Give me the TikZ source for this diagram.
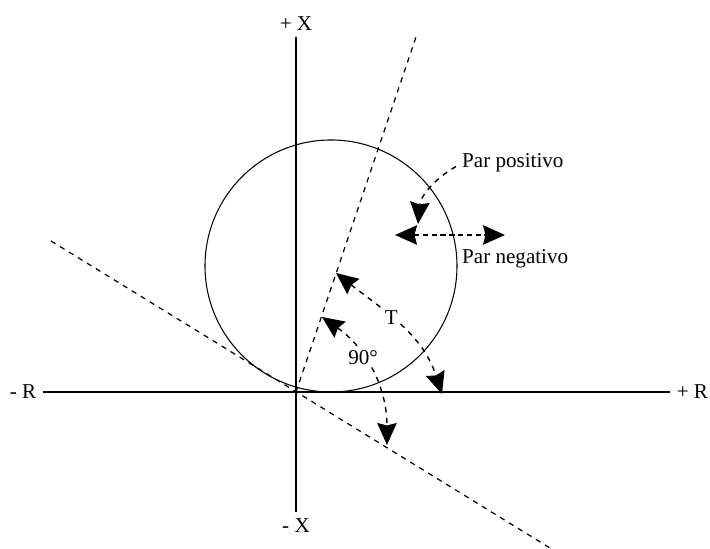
\documentclass[tikz,border=0pt]{standalone}
\usepackage{fontspec}
\setmainfont{Liberation Serif}
\usetikzlibrary{arrows.meta}

\begin{document}
\begin{tikzpicture}[>={Stealth[length=4.4mm,width=3.9mm,inset=0.5mm]},
    eje/.style={line width=1.1pt},
    recta/.style={dashed, line width=0.7pt},
    flecha/.style={dashed, line width=0.8pt},
    every node/.style={font=\fontsize{12}{14}\selectfont}]
    \useasboundingbox (-5.92,-3.14) rectangle (8.28,7.84);

    % Ejes
    \draw[eje] (-5.06,0) node[left] (mR) {- R} -- (7.48,0) node[right] (pR) {+ R};
    \draw[eje, line width=0.9pt] (0,-2.4) node[below] (mX) {- X} -- (0,7.1) node[above] (pX) {+ X};

    % Circunferencia
    \draw[line width=0.6pt] (0.7,2.52) circle (2.52);

    % Rectas punteadas por el origen
    \coordinate (O) at (0,0);
    \coordinate (A) at (2.4,7.1);
    \coordinate (B1) at (-4.9,3.02);
    \coordinate (B2) at (5.08,-3.12);
    \draw[recta] (O) -- (A);
    \draw[recta] (B1) -- (B2);

    % Angulo T
    \coordinate (T1) at (0.8,2.38);
    \coordinate (T2) at (2.92,-0.04);
    \draw[flecha, <->] (T1) to[out=-38, in=108]
        node[pos=0.42, fill=white, inner sep=1pt] (tlab) {T} (T2);

    % Angulo de 90 grados
    \coordinate (N1) at (0.52,1.5);
    \coordinate (N2) at (1.82,-1.06);
    \draw[flecha, <->] (N1) to[out=-35, in=90]
        node[pos=0.38, fill=white, inner sep=1pt] (nlab) {90°} (N2);

    % Par positivo / negativo
    \node[anchor=west] (pos) at (3.2,4.58) {Par positivo};
    \node[anchor=west] (neg) at (3.2,2.66) {Par negativo};
    \coordinate (P) at (2.44,3.36);
    \draw[flecha, ->] ([yshift=-2pt]pos.west) to[out=210, in=85] (P);
    \coordinate (H1) at (1.98,3.14);
    \coordinate (H2) at (4.18,3.14);
    \draw[flecha, densely dashed, <->] (H1) -- (H2);

\end{tikzpicture}
\end{document}
